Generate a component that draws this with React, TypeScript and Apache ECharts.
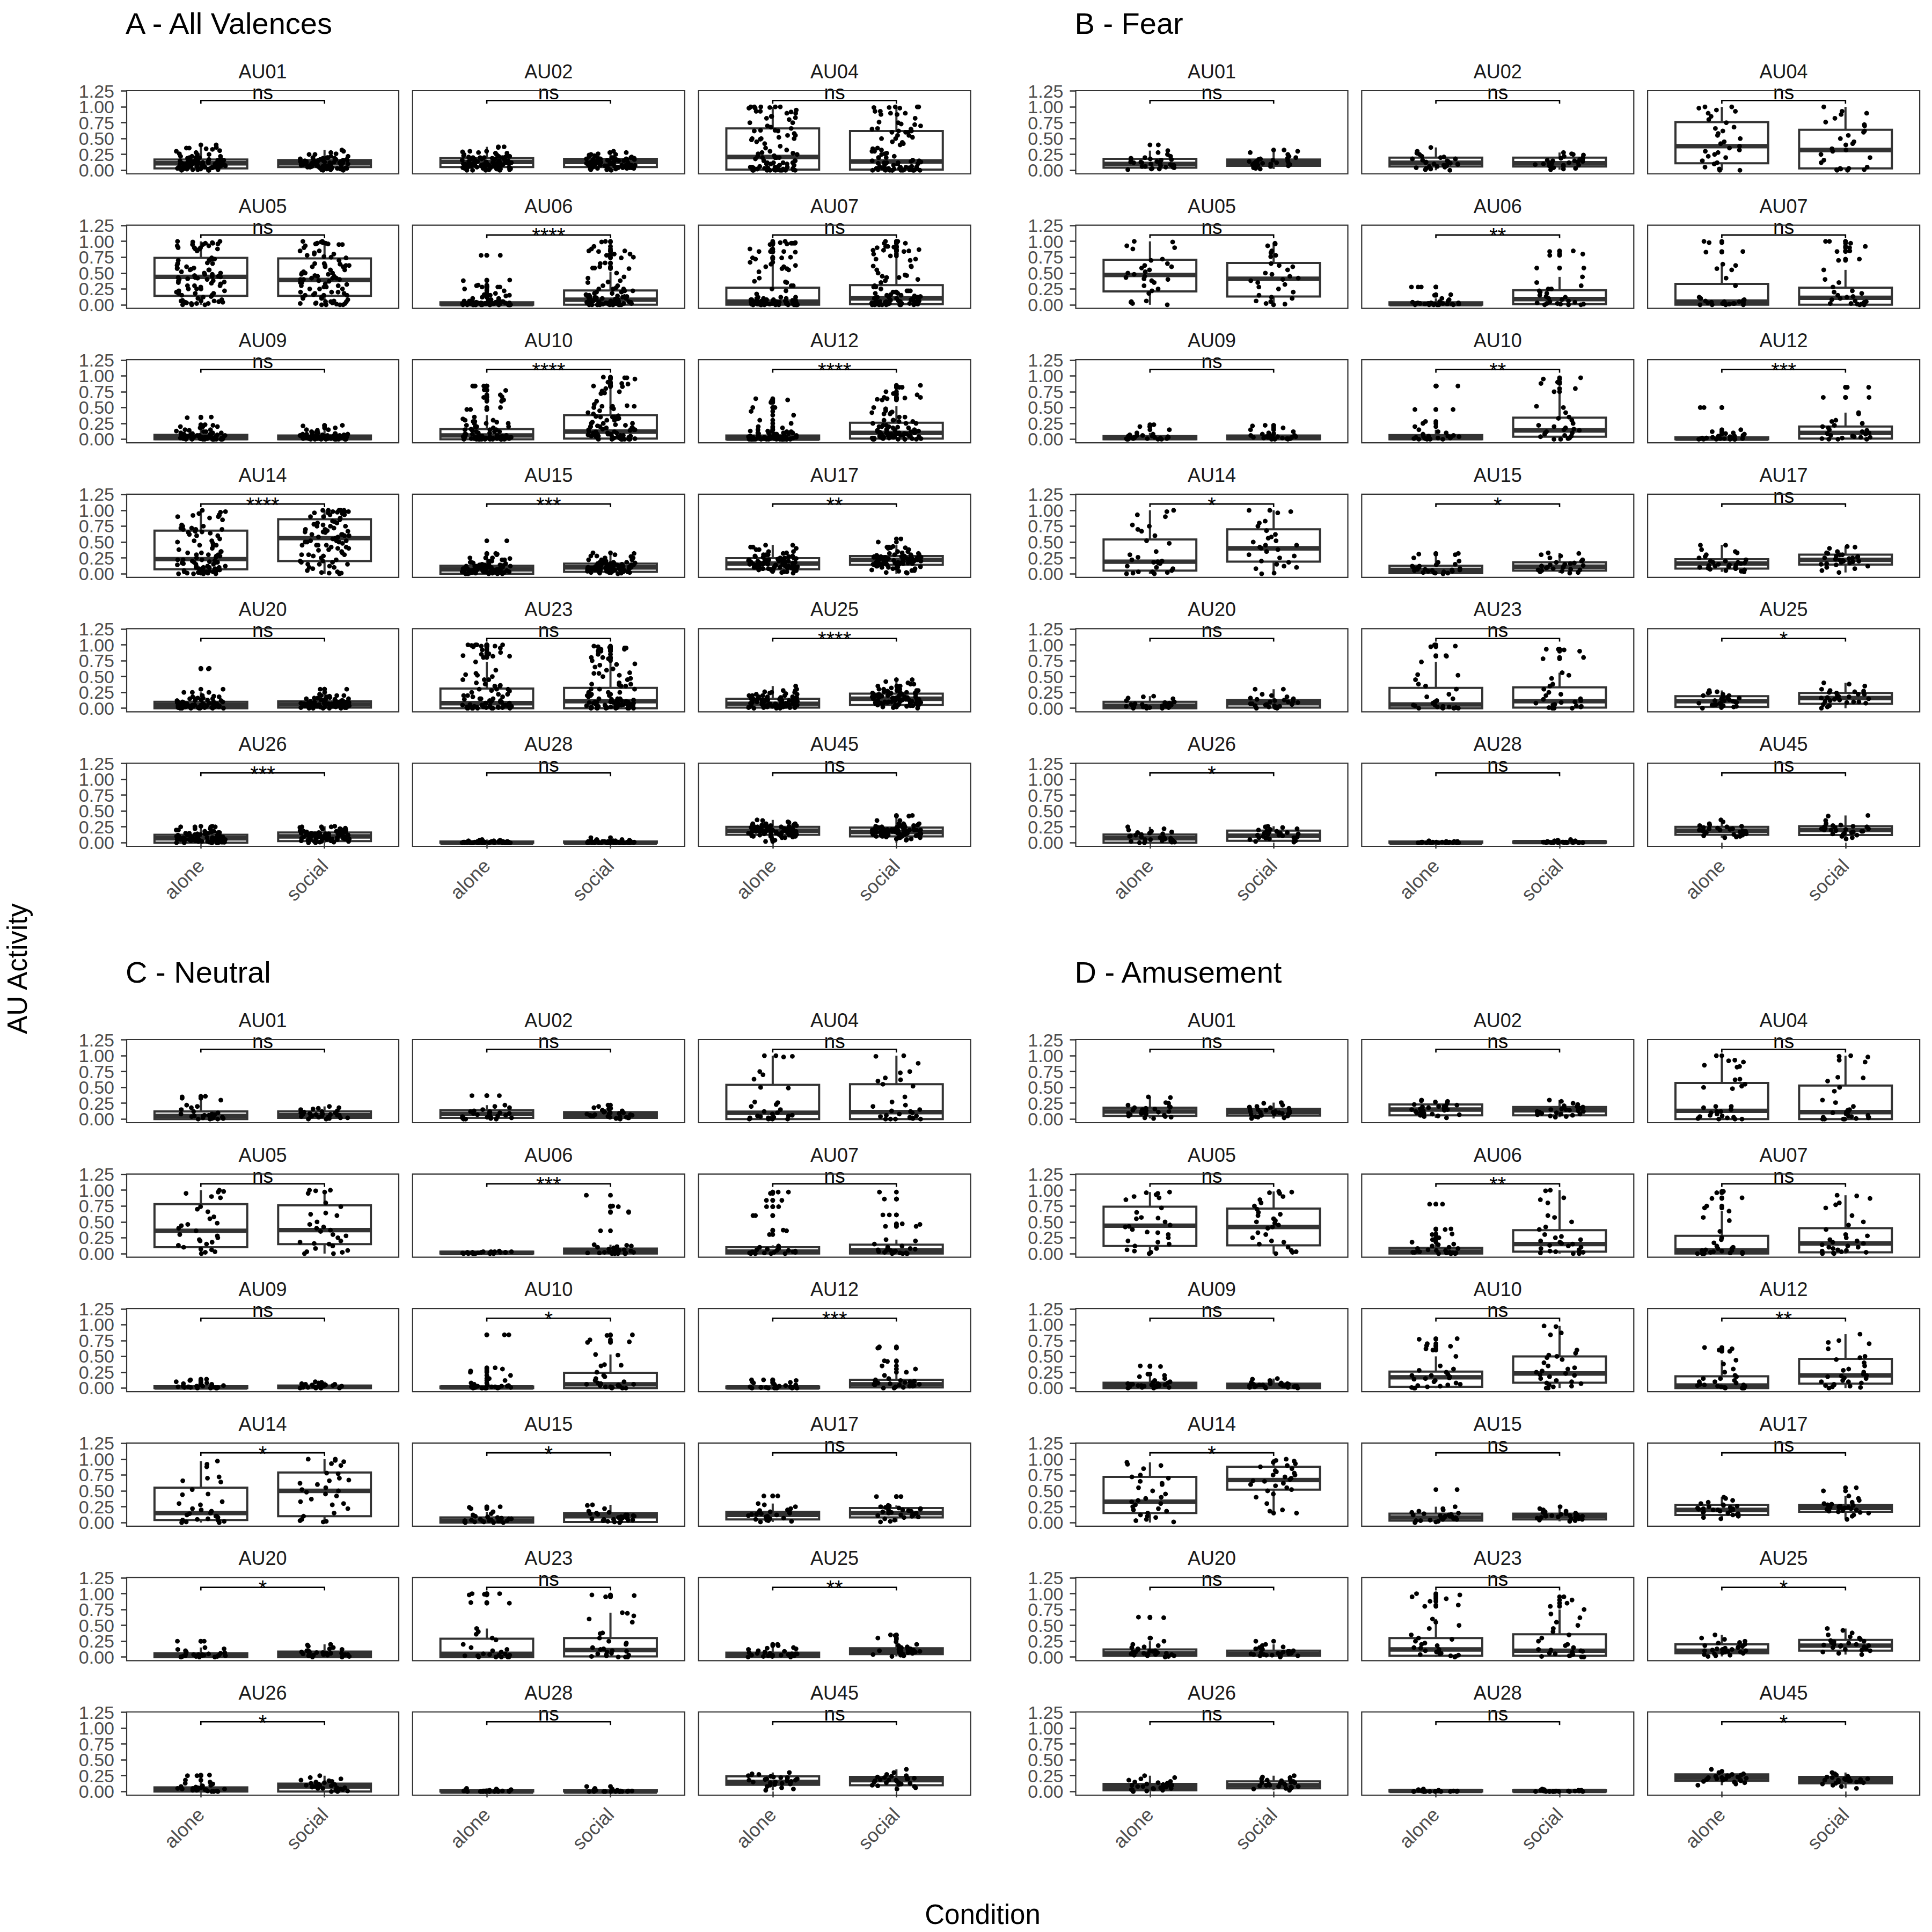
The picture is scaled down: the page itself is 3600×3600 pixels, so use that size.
import React, { useEffect, useRef } from "react";
import * as echarts from "echarts";

const FONT = "'Liberation Sans', Arial, Helvetica, sans-serif";

const AUS = ["AU01","AU02","AU04","AU05","AU06","AU07","AU09","AU10","AU12","AU14","AU15","AU17","AU20","AU23","AU25","AU26","AU28","AU45"];
const CONDITIONS = ["alone", "social"];
const PANEL_TITLES = ["A - All Valences", "B - Fear", "C - Neutral", "D - Amusement"];
const Y_TICKS = [0, 0.25, 0.5, 0.75, 1, 1.25];
const X_TITLE = "Condition";
const Y_TITLE = "AU Activity";

// significance labels (order of AUS)
const sigA = ["ns","ns","ns","ns","****","ns","ns","****","****","****","***","**","ns","ns","****","***","ns","ns"];
const sigB = ["ns","ns","ns","ns","**","ns","ns","**","***","*","*","ns","ns","ns","*","*","ns","ns"];
const sigC = ["ns","ns","ns","ns","***","ns","ns","*","***","*","*","ns","*","ns","**","*","ns","ns"];
const sigD = ["ns","ns","ns","ns","**","ns","ns","ns","**","*","ns","ns","ns","ns","*","ns","ns","*"];

// box stats: [lower whisker, Q1, median, Q3, upper whisker]
const boxA_alone = [[0,0.03,0.11,0.17,0.38],[0,0.05,0.13,0.19,0.37],[0,0.01,0.21,0.66,1],[0,0.14,0.44,0.74,1],[0,0,0.01,0.04,0.1],[0,0,0.05,0.27,0.66],[0,0,0.02,0.07,0.17],[0,0,0.06,0.16,0.38],[0,0,0.01,0.06,0.15],[0,0.07,0.23,0.68,1],[0,0,0.07,0.125,0.3],[0,0.07,0.16,0.245,0.45],[0,0,0.05,0.1,0.25],[0,0,0.08,0.31,0.73],[0,0.01,0.07,0.15,0.35],[0,0,0.07,0.125,0.25],[0,0,0,0.02,0.05],[0.06,0.125,0.19,0.25,0.36]];
const boxA_social = [[0,0.05,0.11,0.16,0.32],[0,0.05,0.13,0.18,0.3],[0,0.01,0.14,0.62,1],[0,0.14,0.39,0.73,1],[0,0,0.08,0.225,0.52],[0,0.01,0.1,0.31,0.76],[0,0,0.02,0.06,0.15],[0,0.01,0.12,0.38,0.81],[0,0.01,0.1,0.26,0.52],[0,0.2,0.56,0.86,1],[0,0.03,0.1,0.16,0.32],[0,0.14,0.22,0.28,0.45],[0,0.01,0.06,0.11,0.27],[0,0,0.11,0.32,0.72],[0,0.05,0.15,0.23,0.42],[0,0.025,0.1,0.16,0.26],[0,0,0,0.02,0.05],[0,0.1,0.17,0.24,0.4]];
const boxB_alone = [[0,0.04,0.1,0.18,0.31],[0,0.06,0.12,0.2,0.36],[0,0.11,0.38,0.76,1],[0,0.21,0.47,0.71,1],[0,0,0.01,0.04,0.1],[0,0,0.05,0.33,0.64],[0,0,0.02,0.05,0.1],[0,0,0.02,0.065,0.15],[0,0,0.01,0.03,0.07],[0,0.05,0.19,0.54,1],[0,0.01,0.06,0.125,0.3],[0.03,0.08,0.16,0.23,0.45],[0,0,0.04,0.1,0.19],[0,0,0.06,0.32,0.73],[0,0.02,0.11,0.19,0.28],[0,0,0.07,0.13,0.25],[0,0,0,0.02,0.03],[0.08,0.125,0.19,0.25,0.36]];
const boxB_social = [[0.02,0.07,0.12,0.17,0.3],[0.01,0.06,0.11,0.2,0.28],[0,0.03,0.32,0.64,1],[0,0.13,0.41,0.66,0.97],[0,0.01,0.09,0.23,0.44],[0,0,0.11,0.27,0.55],[0,0,0.02,0.06,0.12],[0,0.04,0.14,0.34,0.73],[0,0.01,0.1,0.2,0.42],[0,0.19,0.4,0.7,1],[0.01,0.05,0.11,0.18,0.33],[0.02,0.145,0.22,0.3,0.43],[0,0.01,0.08,0.13,0.3],[0,0.01,0.11,0.33,0.56],[0,0.07,0.16,0.24,0.4],[0.01,0.03,0.11,0.19,0.26],[0,0,0.01,0.02,0.05],[0.06,0.12,0.2,0.26,0.43]];
const boxC_alone = [[0,0,0.05,0.12,0.3],[0,0.02,0.08,0.14,0.22],[0,0,0.1,0.54,1],[0,0.1,0.36,0.78,1],[0,0,0.01,0.03,0.04],[0,0,0.03,0.1,0.13],[0,0,0.01,0.03,0.06],[0,0,0.01,0.025,0.06],[0,0,0.01,0.025,0.06],[0,0.04,0.15,0.55,0.97],[0,0,0.03,0.08,0.17],[0.01,0.05,0.12,0.17,0.3],[0,0,0.02,0.06,0.15],[0,0,0.05,0.29,0.45],[0,0,0.03,0.07,0.15],[0,0,0.02,0.065,0.15],[0,0,0,0.02,0.05],[0.02,0.105,0.15,0.24,0.3]];
const boxC_social = [[0,0.02,0.06,0.12,0.2],[0,0.02,0.07,0.11,0.2],[0,0,0.11,0.55,1],[0,0.15,0.37,0.76,1],[0,0,0.03,0.08,0.14],[0,0,0.05,0.14,0.22],[0,0,0.02,0.04,0.1],[0,0,0.06,0.24,0.53],[0,0.01,0.06,0.13,0.23],[0.01,0.1,0.5,0.79,1],[0,0.01,0.1,0.15,0.28],[0.01,0.08,0.15,0.23,0.27],[0,0,0.05,0.085,0.2],[0,0.01,0.11,0.3,0.7],[0.01,0.045,0.09,0.14,0.28],[0,0,0.08,0.125,0.25],[0,0,0,0.02,0.05],[0.04,0.1,0.18,0.23,0.35]];
const boxD_alone = [[0.01,0.05,0.12,0.18,0.35],[0.02,0.06,0.15,0.23,0.3],[0,0,0.13,0.57,0.98],[0,0.12,0.44,0.74,0.97],[0,0,0.03,0.09,0.15],[0,0,0.05,0.28,0.67],[0,0,0.04,0.085,0.2],[0,0.02,0.17,0.26,0.5],[0,0,0.04,0.185,0.44],[0,0.15,0.33,0.72,0.95],[0,0.03,0.08,0.14,0.25],[0.06,0.12,0.2,0.28,0.4],[0,0.02,0.06,0.12,0.25],[0,0.02,0.12,0.3,0.6],[0.01,0.06,0.1,0.2,0.35],[0,0.02,0.07,0.12,0.25],[0,0,0.01,0.02,0.04],[0.1,0.17,0.22,0.27,0.35]];
const boxD_social = [[0.01,0.055,0.11,0.16,0.26],[0.03,0.06,0.14,0.19,0.3],[0,0,0.11,0.53,1],[0,0.13,0.42,0.71,0.98],[0,0.03,0.15,0.37,1],[0,0.02,0.16,0.4,0.92],[0,0,0.03,0.07,0.15],[0,0.085,0.23,0.5,0.98],[0,0.07,0.2,0.46,0.85],[0.18,0.52,0.67,0.88,1],[0.02,0.05,0.1,0.14,0.25],[0.05,0.17,0.23,0.28,0.42],[0,0.02,0.05,0.1,0.2],[0,0.02,0.1,0.36,0.75],[0.04,0.1,0.18,0.27,0.45],[0.02,0.05,0.1,0.16,0.25],[0,0,0.01,0.02,0.04],[0.05,0.13,0.18,0.23,0.3]];

const ptsB_alone = [
[0.40,0.31,0.28,0.25,0.22,0.20,0.18,0.17,0.15,0.14,0.13,0.12,0.12,0.11,0.10,0.10,0.09,0.08,0.07,0.06,0.05,0.05,0.04,0.03,0.02,0.01,0.02,0.06,0.08,0.13,0.16,0.19],
[0.36,0.30,0.27,0.25,0.22,0.21,0.20,0.18,0.16,0.15,0.14,0.13,0.12,0.11,0.10,0.09,0.08,0.08,0.07,0.06,0.05,0.04,0.03,0.02,0.01,0.00,0.12,0.18,0.10,0.06],
[1.00,1.00,0.98,0.93,0.85,0.80,0.75,0.68,0.62,0.58,0.50,0.45,0.38,0.35,0.30,0.25,0.22,0.20,0.15,0.12,0.10,0.05,0.02,0.00,0.00,0.95,0.90,0.66,0.55,0.42,0.32,0.28],
[1.00,0.99,0.93,0.90,0.88,0.72,0.70,0.65,0.60,0.58,0.55,0.50,0.48,0.45,0.43,0.40,0.38,0.35,0.30,0.25,0.22,0.18,0.06,0.05,0.04,0.02,0.00,0.62,0.52,0.41],
[0.28,0.28,0.28,0.16,0.15,0.10,0.08,0.06,0.05,0.04,0.03,0.02,0.02,0.01,0.01,0.00,0.00,0.00,0.01,0.02,0.03,0.00,0.00,0.01,0.02,0.00,0.01,0.03],
[1.00,0.98,0.84,0.83,0.64,0.62,0.57,0.55,0.42,0.30,0.12,0.10,0.08,0.06,0.05,0.04,0.03,0.02,0.01,0.00,0.00,0.00,0.01,0.02,0.03,0.05,0.07,0.00,0.02,0.01],
[0.23,0.20,0.20,0.15,0.10,0.08,0.07,0.06,0.05,0.04,0.03,0.03,0.02,0.02,0.01,0.01,0.00,0.00,0.00,0.01,0.02,0.03,0.04,0.05,0.06,0.02,0.00,0.01],
[0.84,0.84,0.47,0.47,0.28,0.25,0.20,0.15,0.12,0.10,0.08,0.06,0.05,0.04,0.03,0.02,0.01,0.00,0.00,0.00,0.01,0.02,0.03,0.04,0.05,0.00,0.01,0.02],
[0.50,0.50,0.15,0.12,0.10,0.09,0.08,0.06,0.05,0.04,0.03,0.02,0.02,0.01,0.01,0.00,0.00,0.00,0.00,0.01,0.02,0.03,0.05,0.00,0.01,0.00],
[1.00,0.98,0.93,0.90,0.77,0.75,0.70,0.67,0.60,0.52,0.48,0.35,0.30,0.26,0.20,0.18,0.17,0.16,0.12,0.08,0.05,0.02,0.01,0.00,0.00,0.03,0.10,0.22,0.19,0.03],
[0.32,0.31,0.30,0.25,0.20,0.18,0.15,0.14,0.12,0.10,0.09,0.08,0.07,0.06,0.06,0.05,0.04,0.03,0.02,0.01,0.00,0.01,0.02,0.04,0.07,0.10,0.12,0.05],
[0.45,0.45,0.38,0.35,0.33,0.30,0.27,0.25,0.22,0.20,0.20,0.18,0.17,0.16,0.15,0.14,0.13,0.12,0.11,0.10,0.09,0.08,0.07,0.06,0.05,0.04,0.03,0.14,0.18,0.10],
[0.19,0.18,0.16,0.15,0.12,0.10,0.09,0.08,0.07,0.06,0.06,0.05,0.05,0.04,0.04,0.03,0.03,0.02,0.02,0.01,0.01,0.00,0.00,0.00,0.03,0.07,0.05,0.02],
[1.00,0.98,0.97,0.83,0.82,0.73,0.53,0.52,0.45,0.38,0.35,0.30,0.22,0.18,0.15,0.12,0.08,0.05,0.04,0.03,0.02,0.01,0.00,0.00,0.00,0.00,0.01,0.02,0.05,0.10],
[0.28,0.26,0.25,0.24,0.22,0.20,0.18,0.17,0.16,0.15,0.13,0.12,0.11,0.10,0.09,0.08,0.07,0.06,0.05,0.04,0.03,0.02,0.01,0.00,0.12,0.05,0.08,0.20],
[0.25,0.22,0.20,0.18,0.17,0.16,0.15,0.14,0.13,0.12,0.10,0.09,0.08,0.07,0.06,0.05,0.04,0.03,0.02,0.01,0.00,0.00,0.01,0.03,0.05,0.08,0.11,0.02],
[0.03,0.02,0.02,0.01,0.01,0.01,0.01,0.00,0.00,0.00,0.00,0.00,0.00,0.00,0.01,0.00,0.00,0.01,0.00,0.00,0.02,0.00,0.01,0.00],
[0.36,0.33,0.30,0.28,0.27,0.26,0.25,0.24,0.23,0.22,0.21,0.20,0.20,0.19,0.18,0.18,0.17,0.16,0.15,0.14,0.13,0.12,0.11,0.10,0.09,0.08,0.22,0.19]];
const ptsB_social = [
[0.32,0.30,0.28,0.25,0.22,0.20,0.19,0.18,0.17,0.16,0.15,0.14,0.13,0.12,0.12,0.11,0.10,0.09,0.08,0.07,0.06,0.05,0.04,0.03,0.02,0.14,0.11,0.09],
[0.28,0.26,0.25,0.24,0.22,0.20,0.19,0.18,0.17,0.16,0.15,0.14,0.13,0.12,0.11,0.10,0.09,0.08,0.07,0.06,0.05,0.04,0.03,0.02,0.01,0.12,0.15,0.08],
[1.00,0.93,0.90,0.88,0.76,0.70,0.62,0.60,0.50,0.42,0.40,0.34,0.32,0.30,0.25,0.20,0.16,0.12,0.05,0.03,0.02,0.01,0.00,0.00,0.01,0.03,0.45,0.55,0.72,0.82],
[0.97,0.96,0.93,0.85,0.82,0.78,0.76,0.65,0.60,0.55,0.50,0.45,0.42,0.40,0.38,0.32,0.28,0.25,0.20,0.15,0.12,0.10,0.06,0.05,0.02,0.01,0.00,0.35,0.48,0.62],
[0.85,0.84,0.80,0.78,0.58,0.58,0.44,0.35,0.30,0.25,0.22,0.20,0.18,0.15,0.13,0.10,0.08,0.06,0.04,0.03,0.02,0.01,0.00,0.00,0.01,0.05,0.12,0.25,0.02,0.00],
[1.00,1.00,0.97,0.92,0.90,0.85,0.84,0.72,0.70,0.55,0.40,0.35,0.28,0.22,0.20,0.15,0.12,0.10,0.08,0.06,0.04,0.02,0.01,0.00,0.00,0.02,0.05,0.13,0.18,0.01],
[0.22,0.21,0.18,0.15,0.12,0.10,0.09,0.08,0.07,0.06,0.05,0.05,0.04,0.04,0.03,0.03,0.02,0.02,0.01,0.01,0.00,0.00,0.00,0.02,0.04,0.06,0.03,0.01],
[0.97,0.95,0.90,0.88,0.80,0.75,0.52,0.50,0.42,0.35,0.33,0.30,0.25,0.20,0.18,0.15,0.14,0.12,0.10,0.08,0.06,0.05,0.04,0.02,0.01,0.00,0.00,0.22,0.16,0.10],
[0.82,0.82,0.66,0.66,0.42,0.40,0.30,0.28,0.25,0.20,0.18,0.15,0.12,0.10,0.08,0.06,0.05,0.04,0.03,0.02,0.01,0.00,0.00,0.14,0.22,0.09,0.03,0.00],
[1.00,1.00,0.98,0.96,0.83,0.80,0.75,0.68,0.62,0.56,0.52,0.50,0.45,0.42,0.40,0.38,0.35,0.30,0.25,0.20,0.18,0.12,0.10,0.08,0.01,0.00,0.58,0.45,0.28,0.15],
[0.33,0.32,0.30,0.28,0.25,0.22,0.20,0.18,0.16,0.15,0.14,0.13,0.12,0.11,0.10,0.09,0.08,0.07,0.06,0.05,0.04,0.03,0.02,0.01,0.12,0.17,0.10,0.06],
[0.43,0.42,0.40,0.35,0.33,0.32,0.30,0.28,0.27,0.26,0.25,0.24,0.23,0.22,0.21,0.20,0.19,0.18,0.17,0.16,0.15,0.14,0.12,0.10,0.08,0.05,0.02,0.25,0.20,0.30],
[0.30,0.30,0.22,0.20,0.18,0.16,0.15,0.14,0.12,0.11,0.10,0.09,0.08,0.07,0.06,0.06,0.05,0.04,0.03,0.02,0.01,0.00,0.00,0.13,0.10,0.07,0.04,0.02],
[0.93,0.93,0.92,0.90,0.80,0.78,0.56,0.52,0.47,0.38,0.35,0.30,0.25,0.20,0.15,0.12,0.10,0.08,0.06,0.05,0.04,0.03,0.02,0.01,0.00,0.00,0.00,0.14,0.22,0.09],
[0.40,0.38,0.35,0.30,0.28,0.27,0.26,0.25,0.24,0.22,0.20,0.19,0.18,0.17,0.16,0.15,0.14,0.13,0.12,0.11,0.10,0.09,0.08,0.06,0.04,0.02,0.00,0.22,0.16,0.10],
[0.26,0.25,0.24,0.22,0.21,0.20,0.19,0.18,0.17,0.16,0.15,0.14,0.13,0.12,0.11,0.10,0.09,0.08,0.07,0.06,0.05,0.04,0.03,0.02,0.01,0.12,0.15,0.08],
[0.05,0.04,0.03,0.02,0.02,0.01,0.01,0.01,0.00,0.00,0.00,0.00,0.00,0.01,0.00,0.02,0.00,0.01,0.00,0.00,0.01,0.00,0.03,0.00],
[0.43,0.42,0.35,0.30,0.28,0.27,0.26,0.25,0.24,0.23,0.22,0.21,0.20,0.19,0.18,0.17,0.16,0.15,0.14,0.13,0.12,0.10,0.08,0.06,0.20,0.25,0.22,0.18]];
const ptsC_alone = [
[0.36,0.35,0.33,0.30,0.22,0.20,0.18,0.15,0.12,0.10,0.08,0.07,0.06,0.05,0.05,0.04,0.03,0.03,0.02,0.02,0.01,0.01,0.00,0.00,0.00,0.06,0.08,0.04],
[0.37,0.37,0.22,0.20,0.18,0.15,0.13,0.12,0.11,0.10,0.09,0.08,0.07,0.06,0.06,0.05,0.04,0.03,0.03,0.02,0.01,0.00,0.00,0.00,0.09,0.12,0.05,0.02],
[1.00,1.00,0.99,0.98,0.75,0.70,0.63,0.50,0.49,0.27,0.26,0.23,0.20,0.15,0.12,0.10,0.08,0.06,0.05,0.04,0.03,0.02,0.01,0.00,0.00,0.00,0.00,0.01,0.02,0.05],
[1.00,0.98,0.97,0.95,0.90,0.88,0.74,0.70,0.66,0.58,0.55,0.48,0.46,0.40,0.36,0.30,0.28,0.22,0.20,0.18,0.15,0.13,0.10,0.07,0.06,0.03,0.02,0.00,0.44,0.25],
[0.04,0.03,0.03,0.02,0.02,0.02,0.01,0.01,0.01,0.00,0.00,0.00,0.00,0.01,0.02,0.03,0.00,0.01,0.02,0.00,0.01,0.00,0.03,0.02],
[0.97,0.97,0.95,0.84,0.84,0.74,0.74,0.60,0.60,0.37,0.36,0.30,0.12,0.10,0.08,0.07,0.06,0.05,0.04,0.03,0.02,0.02,0.01,0.01,0.00,0.00,0.00,0.00,0.03,0.05],
[0.14,0.13,0.12,0.10,0.08,0.07,0.06,0.05,0.05,0.04,0.03,0.03,0.02,0.02,0.01,0.01,0.00,0.00,0.00,0.01,0.02,0.03,0.00,0.01],
[0.84,0.84,0.32,0.30,0.27,0.25,0.20,0.15,0.12,0.08,0.06,0.05,0.04,0.03,0.03,0.02,0.02,0.01,0.01,0.00,0.00,0.00,0.00,0.01,0.02,0.03,0.00,0.01],
[0.13,0.13,0.12,0.10,0.09,0.08,0.06,0.05,0.04,0.03,0.02,0.02,0.01,0.01,0.00,0.00,0.00,0.00,0.01,0.02,0.00,0.01,0.03,0.00],
[0.97,0.92,0.88,0.72,0.70,0.66,0.64,0.52,0.45,0.44,0.33,0.30,0.28,0.22,0.18,0.15,0.12,0.10,0.08,0.06,0.04,0.02,0.01,0.00,0.00,0.10,0.14,0.03,0.05,0.20],
[0.25,0.24,0.22,0.17,0.14,0.12,0.10,0.09,0.08,0.07,0.06,0.05,0.05,0.04,0.04,0.03,0.03,0.02,0.02,0.01,0.01,0.00,0.00,0.00,0.03,0.06,0.02,0.01],
[0.42,0.42,0.30,0.28,0.25,0.22,0.20,0.19,0.18,0.17,0.16,0.15,0.14,0.13,0.12,0.11,0.10,0.09,0.08,0.07,0.06,0.05,0.04,0.03,0.02,0.01,0.13,0.15],
[0.25,0.25,0.15,0.13,0.12,0.10,0.08,0.07,0.06,0.05,0.05,0.04,0.04,0.03,0.03,0.02,0.02,0.01,0.01,0.00,0.00,0.00,0.02,0.04,0.01,0.00],
[1.00,1.00,0.99,0.98,0.86,0.85,0.45,0.40,0.36,0.30,0.27,0.20,0.15,0.12,0.08,0.05,0.04,0.03,0.02,0.02,0.01,0.00,0.00,0.00,0.00,0.00,0.02,0.05,0.10,0.03],
[0.20,0.18,0.15,0.14,0.13,0.12,0.10,0.09,0.08,0.07,0.06,0.06,0.05,0.05,0.04,0.04,0.03,0.03,0.02,0.01,0.01,0.00,0.00,0.05,0.03,0.02,0.07],
[0.26,0.25,0.25,0.18,0.15,0.13,0.12,0.10,0.09,0.08,0.07,0.06,0.05,0.05,0.04,0.04,0.03,0.03,0.02,0.02,0.01,0.01,0.00,0.00,0.00,0.06,0.03,0.02],
[0.05,0.04,0.03,0.02,0.02,0.01,0.01,0.01,0.00,0.00,0.00,0.00,0.00,0.01,0.00,0.00,0.01,0.00,0.02,0.00,0.00,0.01],
[0.30,0.28,0.27,0.26,0.25,0.24,0.23,0.22,0.21,0.20,0.20,0.19,0.18,0.17,0.16,0.15,0.14,0.13,0.12,0.11,0.10,0.08,0.06,0.04,0.02,0.15,0.18,0.22]];
const ptsC_social = [
[0.20,0.18,0.17,0.16,0.15,0.13,0.12,0.11,0.10,0.09,0.08,0.08,0.07,0.06,0.06,0.05,0.05,0.04,0.03,0.03,0.02,0.01,0.00,0.00,0.07,0.10,0.04,0.02],
[0.22,0.20,0.18,0.17,0.16,0.14,0.13,0.12,0.11,0.10,0.09,0.08,0.07,0.07,0.06,0.05,0.05,0.04,0.03,0.02,0.02,0.01,0.00,0.08,0.06,0.10,0.04,0.03],
[1.00,0.99,0.88,0.75,0.73,0.65,0.62,0.60,0.55,0.52,0.35,0.27,0.22,0.20,0.15,0.12,0.10,0.08,0.06,0.04,0.03,0.02,0.01,0.00,0.00,0.00,0.00,0.05,0.13,0.02],
[1.00,1.00,0.99,0.97,0.95,0.80,0.74,0.64,0.62,0.60,0.50,0.46,0.40,0.37,0.35,0.30,0.25,0.20,0.18,0.16,0.15,0.08,0.05,0.03,0.02,0.00,0.00,0.42,0.28,0.12],
[0.92,0.75,0.74,0.66,0.65,0.36,0.14,0.13,0.12,0.11,0.10,0.09,0.08,0.07,0.06,0.05,0.04,0.03,0.02,0.02,0.01,0.01,0.00,0.00,0.00,0.00,0.01,0.03,0.05,0.00],
[0.97,0.86,0.86,0.61,0.61,0.47,0.46,0.43,0.43,0.22,0.20,0.15,0.12,0.10,0.08,0.07,0.06,0.05,0.04,0.03,0.02,0.02,0.01,0.01,0.00,0.00,0.00,0.00,0.05,0.03],
[0.10,0.09,0.08,0.07,0.06,0.06,0.05,0.05,0.04,0.04,0.03,0.03,0.02,0.02,0.01,0.01,0.00,0.00,0.00,0.02,0.03,0.04,0.01,0.00],
[0.84,0.83,0.76,0.73,0.72,0.53,0.52,0.37,0.36,0.35,0.25,0.20,0.18,0.15,0.12,0.10,0.08,0.06,0.05,0.04,0.03,0.02,0.01,0.00,0.00,0.00,0.07,0.02,0.04,0.06],
[0.65,0.64,0.63,0.43,0.42,0.35,0.30,0.25,0.20,0.15,0.13,0.12,0.11,0.10,0.09,0.08,0.07,0.06,0.05,0.04,0.03,0.02,0.01,0.00,0.00,0.06,0.09,0.03,0.12,0.05],
[1.00,1.00,0.98,0.96,0.93,0.90,0.78,0.77,0.70,0.67,0.66,0.60,0.52,0.50,0.48,0.42,0.37,0.33,0.28,0.22,0.15,0.10,0.05,0.03,0.02,0.01,0.55,0.45,0.62,0.30],
[0.28,0.27,0.22,0.18,0.16,0.15,0.14,0.13,0.12,0.11,0.10,0.09,0.09,0.08,0.07,0.06,0.05,0.05,0.04,0.03,0.02,0.01,0.00,0.12,0.10,0.07,0.04,0.02],
[0.41,0.41,0.27,0.26,0.25,0.24,0.23,0.22,0.21,0.20,0.19,0.18,0.17,0.16,0.15,0.14,0.13,0.12,0.11,0.10,0.09,0.08,0.06,0.04,0.02,0.01,0.15,0.20],
[0.20,0.19,0.17,0.15,0.13,0.12,0.10,0.09,0.08,0.08,0.07,0.06,0.06,0.05,0.05,0.04,0.04,0.03,0.03,0.02,0.01,0.00,0.00,0.06,0.04,0.02,0.07],
[0.98,0.97,0.96,0.95,0.70,0.69,0.65,0.60,0.55,0.38,0.37,0.30,0.25,0.22,0.20,0.15,0.12,0.10,0.08,0.06,0.05,0.04,0.03,0.02,0.01,0.00,0.00,0.00,0.13,0.09],
[0.35,0.34,0.30,0.28,0.24,0.20,0.18,0.16,0.15,0.14,0.13,0.12,0.11,0.10,0.10,0.09,0.09,0.08,0.07,0.06,0.05,0.04,0.03,0.02,0.01,0.12,0.08,0.10],
[0.25,0.22,0.20,0.18,0.17,0.16,0.15,0.14,0.13,0.12,0.11,0.10,0.09,0.08,0.08,0.07,0.06,0.05,0.05,0.04,0.03,0.02,0.01,0.00,0.00,0.10,0.06,0.12],
[0.08,0.05,0.04,0.03,0.02,0.02,0.01,0.01,0.00,0.00,0.00,0.00,0.01,0.00,0.00,0.01,0.00,0.02,0.00,0.00,0.01,0.00],
[0.35,0.30,0.27,0.25,0.24,0.23,0.22,0.21,0.20,0.19,0.18,0.17,0.16,0.15,0.14,0.13,0.12,0.11,0.10,0.09,0.08,0.06,0.04,0.18,0.20,0.14]];
const ptsD_alone = [
[0.35,0.34,0.26,0.25,0.22,0.20,0.19,0.18,0.17,0.16,0.15,0.14,0.13,0.12,0.11,0.10,0.09,0.08,0.07,0.06,0.05,0.04,0.03,0.02,0.01,0.12,0.14,0.09],
[0.30,0.29,0.28,0.27,0.25,0.23,0.22,0.21,0.20,0.19,0.18,0.17,0.16,0.15,0.14,0.13,0.12,0.11,0.10,0.09,0.08,0.07,0.06,0.05,0.04,0.02,0.15,0.20],
[1.00,0.93,0.92,0.90,0.85,0.83,0.82,0.63,0.62,0.55,0.52,0.50,0.48,0.20,0.20,0.18,0.15,0.12,0.10,0.08,0.06,0.04,0.03,0.02,0.01,0.00,0.00,0.00,0.05,0.12],
[0.97,0.96,0.95,0.93,0.90,0.88,0.85,0.72,0.65,0.57,0.56,0.55,0.50,0.45,0.43,0.38,0.34,0.33,0.30,0.25,0.20,0.18,0.15,0.12,0.08,0.06,0.04,0.02,0.00,0.42],
[0.78,0.78,0.39,0.38,0.31,0.30,0.25,0.22,0.18,0.15,0.14,0.12,0.10,0.08,0.06,0.05,0.04,0.03,0.02,0.02,0.01,0.01,0.00,0.00,0.00,0.00,0.02,0.05,0.08,0.01],
[0.98,0.97,0.96,0.88,0.87,0.75,0.72,0.67,0.57,0.52,0.35,0.25,0.22,0.17,0.12,0.10,0.08,0.06,0.05,0.04,0.03,0.02,0.01,0.00,0.00,0.00,0.00,0.02,0.05,0.08],
[0.35,0.34,0.22,0.20,0.18,0.15,0.12,0.10,0.09,0.08,0.07,0.06,0.06,0.05,0.05,0.04,0.04,0.03,0.03,0.02,0.02,0.01,0.01,0.00,0.00,0.05,0.07,0.03],
[0.78,0.77,0.70,0.67,0.66,0.62,0.60,0.50,0.35,0.30,0.28,0.25,0.22,0.20,0.18,0.16,0.15,0.12,0.10,0.08,0.06,0.05,0.04,0.03,0.02,0.01,0.00,0.00,0.14,0.20],
[0.64,0.62,0.60,0.58,0.44,0.38,0.30,0.25,0.20,0.18,0.15,0.12,0.10,0.08,0.06,0.05,0.04,0.03,0.02,0.02,0.01,0.01,0.00,0.00,0.00,0.00,0.05,0.10,0.03,0.15],
[0.95,0.92,0.90,0.85,0.75,0.72,0.70,0.65,0.60,0.55,0.50,0.45,0.40,0.35,0.33,0.30,0.28,0.25,0.22,0.20,0.18,0.15,0.12,0.10,0.08,0.05,0.03,0.01,0.38,0.62],
[0.52,0.25,0.22,0.20,0.18,0.16,0.15,0.14,0.13,0.12,0.11,0.10,0.09,0.08,0.08,0.07,0.06,0.05,0.05,0.04,0.03,0.02,0.01,0.00,0.10,0.12,0.06,0.03],
[0.40,0.38,0.35,0.32,0.30,0.28,0.27,0.26,0.25,0.24,0.23,0.22,0.21,0.20,0.20,0.19,0.18,0.17,0.16,0.15,0.14,0.13,0.12,0.10,0.08,0.06,0.20,0.22],
[0.63,0.62,0.30,0.25,0.20,0.18,0.16,0.15,0.13,0.12,0.10,0.09,0.08,0.07,0.06,0.05,0.05,0.04,0.03,0.02,0.01,0.00,0.06,0.10,0.04,0.02,0.08],
[1.00,0.98,0.95,0.92,0.88,0.82,0.80,0.60,0.55,0.50,0.45,0.35,0.30,0.28,0.25,0.20,0.18,0.15,0.12,0.10,0.08,0.06,0.05,0.04,0.03,0.02,0.01,0.00,0.14,0.22],
[0.35,0.30,0.28,0.25,0.23,0.22,0.20,0.18,0.16,0.15,0.14,0.13,0.12,0.11,0.10,0.09,0.08,0.07,0.06,0.05,0.04,0.03,0.02,0.01,0.10,0.12,0.08,0.17],
[0.25,0.22,0.20,0.18,0.16,0.15,0.14,0.13,0.12,0.11,0.10,0.09,0.08,0.07,0.07,0.06,0.05,0.04,0.03,0.02,0.01,0.00,0.08,0.10,0.05,0.03],
[0.04,0.03,0.02,0.02,0.01,0.01,0.01,0.00,0.00,0.00,0.00,0.00,0.00,0.01,0.00,0.00,0.01,0.00,0.02,0.00],
[0.35,0.32,0.30,0.28,0.27,0.26,0.25,0.24,0.23,0.22,0.22,0.21,0.20,0.20,0.19,0.18,0.17,0.16,0.15,0.14,0.12,0.10,0.22,0.24,0.20,0.18]];
const ptsD_social = [
[0.26,0.25,0.22,0.20,0.19,0.18,0.17,0.16,0.15,0.14,0.13,0.12,0.11,0.10,0.10,0.09,0.08,0.07,0.06,0.05,0.04,0.03,0.02,0.01,0.12,0.08,0.11,0.06],
[0.30,0.28,0.25,0.23,0.21,0.20,0.19,0.18,0.17,0.16,0.15,0.14,0.13,0.12,0.11,0.10,0.09,0.08,0.07,0.06,0.05,0.04,0.03,0.15,0.12,0.17,0.10,0.08],
[1.00,0.99,0.98,0.93,0.90,0.66,0.65,0.60,0.50,0.44,0.30,0.26,0.20,0.15,0.14,0.12,0.10,0.08,0.06,0.05,0.04,0.03,0.02,0.01,0.00,0.00,0.00,0.00,0.11,0.03],
[0.98,0.97,0.96,0.95,0.90,0.85,0.80,0.75,0.70,0.65,0.60,0.55,0.52,0.48,0.45,0.42,0.40,0.33,0.30,0.25,0.20,0.18,0.15,0.10,0.05,0.03,0.02,0.00,0.62,0.50],
[1.00,0.99,0.88,0.85,0.80,0.60,0.57,0.50,0.42,0.38,0.30,0.27,0.25,0.20,0.18,0.16,0.15,0.12,0.10,0.08,0.06,0.05,0.04,0.02,0.01,0.00,0.00,0.22,0.13,0.03],
[0.92,0.91,0.87,0.80,0.77,0.72,0.60,0.50,0.45,0.38,0.30,0.25,0.22,0.20,0.18,0.16,0.14,0.12,0.10,0.08,0.06,0.05,0.04,0.03,0.02,0.01,0.00,0.00,0.28,0.10],
[0.15,0.14,0.12,0.10,0.09,0.08,0.07,0.07,0.06,0.06,0.05,0.05,0.04,0.04,0.03,0.03,0.02,0.02,0.01,0.01,0.00,0.00,0.04,0.06,0.02,0.03],
[0.98,0.97,0.87,0.84,0.60,0.55,0.52,0.50,0.48,0.45,0.40,0.35,0.30,0.27,0.25,0.23,0.20,0.18,0.15,0.12,0.10,0.08,0.05,0.03,0.02,0.00,0.00,0.32,0.21,0.07],
[0.85,0.75,0.72,0.70,0.62,0.50,0.48,0.45,0.40,0.35,0.30,0.25,0.22,0.20,0.18,0.16,0.15,0.12,0.10,0.08,0.06,0.05,0.04,0.03,0.02,0.01,0.00,0.28,0.19,0.10],
[1.00,0.98,0.97,0.95,0.93,0.90,0.88,0.85,0.82,0.80,0.78,0.75,0.72,0.70,0.68,0.66,0.65,0.62,0.60,0.58,0.55,0.52,0.50,0.45,0.40,0.30,0.20,0.18,0.15,0.75],
[0.25,0.22,0.20,0.18,0.17,0.16,0.15,0.14,0.13,0.12,0.11,0.10,0.10,0.09,0.09,0.08,0.07,0.06,0.05,0.04,0.03,0.02,0.10,0.12,0.08,0.06,0.14,0.11],
[0.55,0.50,0.42,0.38,0.35,0.32,0.30,0.29,0.28,0.27,0.26,0.25,0.24,0.23,0.23,0.22,0.21,0.20,0.19,0.18,0.17,0.16,0.15,0.12,0.10,0.05,0.24,0.22],
[0.25,0.20,0.18,0.16,0.15,0.13,0.12,0.10,0.09,0.08,0.07,0.06,0.06,0.05,0.05,0.04,0.04,0.03,0.03,0.02,0.01,0.00,0.07,0.05,0.09,0.02],
[0.95,0.90,0.85,0.80,0.75,0.68,0.62,0.55,0.50,0.45,0.40,0.35,0.30,0.25,0.20,0.15,0.12,0.10,0.08,0.06,0.05,0.04,0.03,0.02,0.01,0.00,0.00,0.09,0.18,0.11],
[0.45,0.42,0.38,0.35,0.32,0.30,0.28,0.26,0.25,0.24,0.22,0.20,0.19,0.18,0.17,0.16,0.15,0.14,0.13,0.12,0.11,0.10,0.08,0.06,0.04,0.20,0.18,0.23],
[0.25,0.23,0.22,0.20,0.19,0.18,0.17,0.16,0.15,0.14,0.13,0.12,0.11,0.10,0.10,0.09,0.08,0.07,0.06,0.05,0.04,0.02,0.12,0.10,0.08,0.14],
[0.04,0.03,0.02,0.02,0.01,0.01,0.01,0.00,0.00,0.00,0.00,0.00,0.00,0.01,0.00,0.00,0.01,0.00,0.02,0.00],
[0.30,0.28,0.26,0.24,0.23,0.22,0.21,0.20,0.19,0.18,0.18,0.17,0.16,0.15,0.14,0.13,0.12,0.10,0.08,0.05,0.20,0.17,0.15,0.19]];

// "All Valences" pools the three valence conditions
const ptsA_alone = AUS.map((_, i) => [...ptsB_alone[i], ...ptsC_alone[i], ...ptsD_alone[i]]);
const ptsA_social = AUS.map((_, i) => [...ptsB_social[i], ...ptsC_social[i], ...ptsD_social[i]]);

const PANELS = [
  { boxes: [boxA_alone, boxA_social], pts: [ptsA_alone, ptsA_social], sig: sigA },
  { boxes: [boxB_alone, boxB_social], pts: [ptsB_alone, ptsB_social], sig: sigB },
  { boxes: [boxC_alone, boxC_social], pts: [ptsC_alone, ptsC_social], sig: sigC },
  { boxes: [boxD_alone, boxD_social], pts: [ptsD_alone, ptsD_social], sig: sigD },
];

// layout (pixels)
const PANEL_LEFT = [236, 2004.5];
const PANEL_TOP = [169, 1937];
const COL_PITCH = 532.8;
const ROW_PITCH = 250.6;
const FACET_W = 507;
const FACET_H = 155;
const Y_MIN = -0.057;
const Y_MAX = 1.255;
const X_MIN = 0.4;
const X_MAX = 2.6;
const BRACKET_Y = 1.1;
const TIP = 0.05;
const JITTER_W = 0.2;
const BOX_HALF = 0.375;
const LINE = "#333333";
const AXIS_TEXT = "#4d4d4d";

function jitter(i: number, seed: number) {
  const s = Math.sin(i * 12.9898 + seed * 78.233 + 1.7) * 43758.5453;
  return (s - Math.floor(s)) * 2 - 1;
}

function renderBox(params: any, api: any) {
  const x = api.value(0);
  const lo = api.coord([x, api.value(1)]);
  const q1 = api.coord([x, api.value(2)]);
  const med = api.coord([x, api.value(3)]);
  const q3 = api.coord([x, api.value(4)]);
  const hi = api.coord([x, api.value(5)]);
  const hw = api.size([BOX_HALF, 0])[0];
  return {
    type: "group",
    children: [
      { type: "line", shape: { x1: hi[0], y1: hi[1], x2: q3[0], y2: q3[1] }, style: { stroke: LINE, lineWidth: 4 } },
      { type: "line", shape: { x1: q1[0], y1: q1[1], x2: lo[0], y2: lo[1] }, style: { stroke: LINE, lineWidth: 4 } },
      { type: "rect", shape: { x: q3[0] - hw, y: q3[1], width: 2 * hw, height: Math.max(q1[1] - q3[1], 0.5) }, style: { fill: "#ffffff", stroke: LINE, lineWidth: 4 } },
      { type: "line", shape: { x1: med[0] - hw, y1: med[1], x2: med[0] + hw, y2: med[1] }, style: { stroke: LINE, lineWidth: 8.4 } },
    ],
  };
}

function makeBracket(label: string) {
  return (params: any, api: any) => {
    const a = api.coord([api.value(0), api.value(2)]);
    const b = api.coord([api.value(1), api.value(2)]);
    const tip = api.size([0, TIP])[1];
    const isNs = label === "ns";
    const fs = isNs ? 37 : 40;
    const ty = isNs ? a[1] - 2 - 0.3465 * fs : a[1] + 1.5;
    return {
      type: "group",
      children: [
        { type: "polyline", shape: { points: [[a[0], a[1] + tip], [a[0], a[1]], [b[0], b[1]], [b[0], b[1] + tip]] }, style: { stroke: "#000", lineWidth: 2.6, fill: "none" } },
        { type: "text", x: (a[0] + b[0]) / 2, y: ty, style: { text: label, fontSize: fs, lineHeight: 24, fontFamily: FONT, fill: "#000", textAlign: "center", textVerticalAlign: "middle", align: "center", verticalAlign: "middle" } },
      ],
    };
  };
}

// a y axis for one facet; labels split over two stacked axes so none gets dropped
function makeYAxis(g: number, show: boolean, values: number[]) {
  return {
    gridIndex: g, type: "value", min: Y_MIN, max: Y_MAX, position: "left", offset: 0,
    axisLine: { show: false }, splitLine: { show: false },
    axisTick: { show, customValues: values, length: 11, lineStyle: { color: LINE, width: 2.5 } },
    axisLabel: {
      show, customValues: values, margin: 23,
      showMinLabel: true, showMaxLabel: true, hideOverlap: false,
      formatter: (v: number) => v.toFixed(2),
      fontSize: 34, fontFamily: FONT, color: AXIS_TEXT,
    },
  };
}

function buildOption() {
  const grid: any[] = [];
  const xAxis: any[] = [];
  const yAxis: any[] = [];
  const yAxisExtra: any[] = [];
  const series: any[] = [];
  const graphic: any[] = [];
  const evenTicks = Y_TICKS.filter((_, i) => i % 2 === 0);
  const oddTicks = Y_TICKS.filter((_, i) => i % 2 === 1);

  PANELS.forEach((panel, p) => {
    const pl = PANEL_LEFT[p % 2];
    const pt = PANEL_TOP[Math.floor(p / 2)];
    graphic.push({
      type: "text", x: pl - 2, y: pt - 106 - 0.3465 * 56, z: 100, silent: true,
      style: { text: PANEL_TITLES[p], fontSize: 56, fontFamily: FONT, fill: "#000", textAlign: "left", textVerticalAlign: "middle", align: "left", verticalAlign: "middle" },
    });
    AUS.forEach((au, k) => {
      const g = p * 18 + k;
      const row = Math.floor(k / 3);
      const col = k % 3;
      const left = pl + col * COL_PITCH;
      const top = pt + row * ROW_PITCH;
      const isBottom = row === 5;
      grid.push({ left, top, width: FACET_W, height: FACET_H, containLabel: false });
      xAxis.push({
        gridIndex: g, type: "value", min: X_MIN, max: X_MAX,
        axisLine: { show: false }, splitLine: { show: false },
        axisTick: { show: isBottom, customValues: [1, 2], length: 11, lineStyle: { color: LINE, width: 2.5 } },
        axisLabel: {
          show: isBottom, customValues: [1, 2], rotate: 45, margin: 30,
          showMinLabel: true, showMaxLabel: true,
          formatter: (v: number) => CONDITIONS[Math.round(v) - 1] || "",
          fontSize: 36, fontFamily: FONT, color: AXIS_TEXT,
        },
      });
      yAxis.push(makeYAxis(g, col === 0, evenTicks));
      if (col === 0) yAxisExtra.push(makeYAxis(g, true, oddTicks));
      const bA = panel.boxes[0][k];
      const bS = panel.boxes[1][k];
      series.push({
        type: "custom", xAxisIndex: g, yAxisIndex: g, silent: true, z: 2,
        renderItem: renderBox, encode: { x: 0, y: [1, 2, 3, 4, 5] },
        data: [[1, ...bA], [2, ...bS]],
      });
      const pts: number[][] = [];
      [0, 1].forEach((c) => {
        const vals: number[] = panel.pts[c][k];
        const box = panel.boxes[c][k];
        vals.forEach((v, i) => pts.push([c + 1 + JITTER_W * jitter(i, g * 2 + c), v]));
        vals.filter((v) => v > box[4] + 1e-9 || v < box[0] - 1e-9).forEach((v) => pts.push([c + 1, v]));
      });
      series.push({
        type: "scatter", xAxisIndex: g, yAxisIndex: g, silent: true, z: 3,
        symbol: "circle", symbolSize: 8.8, itemStyle: { color: "#000", opacity: 1 },
        data: pts,
      });
      series.push({
        type: "custom", xAxisIndex: g, yAxisIndex: g, silent: true, z: 4,
        renderItem: makeBracket(panel.sig[k]), encode: { x: [0, 1], y: 2 },
        data: [[1, 2, BRACKET_Y]],
      });
      graphic.push({
        type: "rect", z: 100, silent: true,
        shape: { x: left, y: top, width: FACET_W, height: FACET_H },
        style: { fill: "none", stroke: LINE, lineWidth: 2.2 },
      });
      graphic.push({
        type: "text", x: left + FACET_W / 2, y: top - 23 - 0.3465 * 36, z: 100, silent: true,
        style: { text: au, fontSize: 36, fontFamily: FONT, fill: "#1a1a1a", textAlign: "center", textVerticalAlign: "middle", align: "center", verticalAlign: "middle" },
      });
    });
  });

  graphic.push({
    type: "text", x: 1831, y: 3567, z: 100, silent: true,
    style: { text: X_TITLE, fontSize: 51, fontFamily: FONT, fill: "#000", textAlign: "center", textVerticalAlign: "middle", align: "center", verticalAlign: "middle" },
  });
  graphic.push({
    type: "text", x: 32, y: 1805, rotation: Math.PI / 2, z: 100, silent: true,
    style: { text: Y_TITLE, fontSize: 51, fontFamily: FONT, fill: "#000", textAlign: "center", textVerticalAlign: "middle", align: "center", verticalAlign: "middle" },
  });

  return {
    animation: false,
    backgroundColor: "#ffffff",
    textStyle: { fontFamily: FONT },
    grid, xAxis, yAxis: [...yAxis, ...yAxisExtra], series, graphic,
  };
}

export default function App() {
  const ref = useRef<HTMLDivElement | null>(null);
  useEffect(() => {
    if (!ref.current) return;
    const chart = echarts.init(ref.current, null, { renderer: "svg" });
    chart.setOption(buildOption() as any);
    return () => chart.dispose();
  }, []);
  return <div ref={ref} style={{ position: "absolute", left: 0, top: 0, width: 3600, height: 3600, background: "#fff" }} />;
}
